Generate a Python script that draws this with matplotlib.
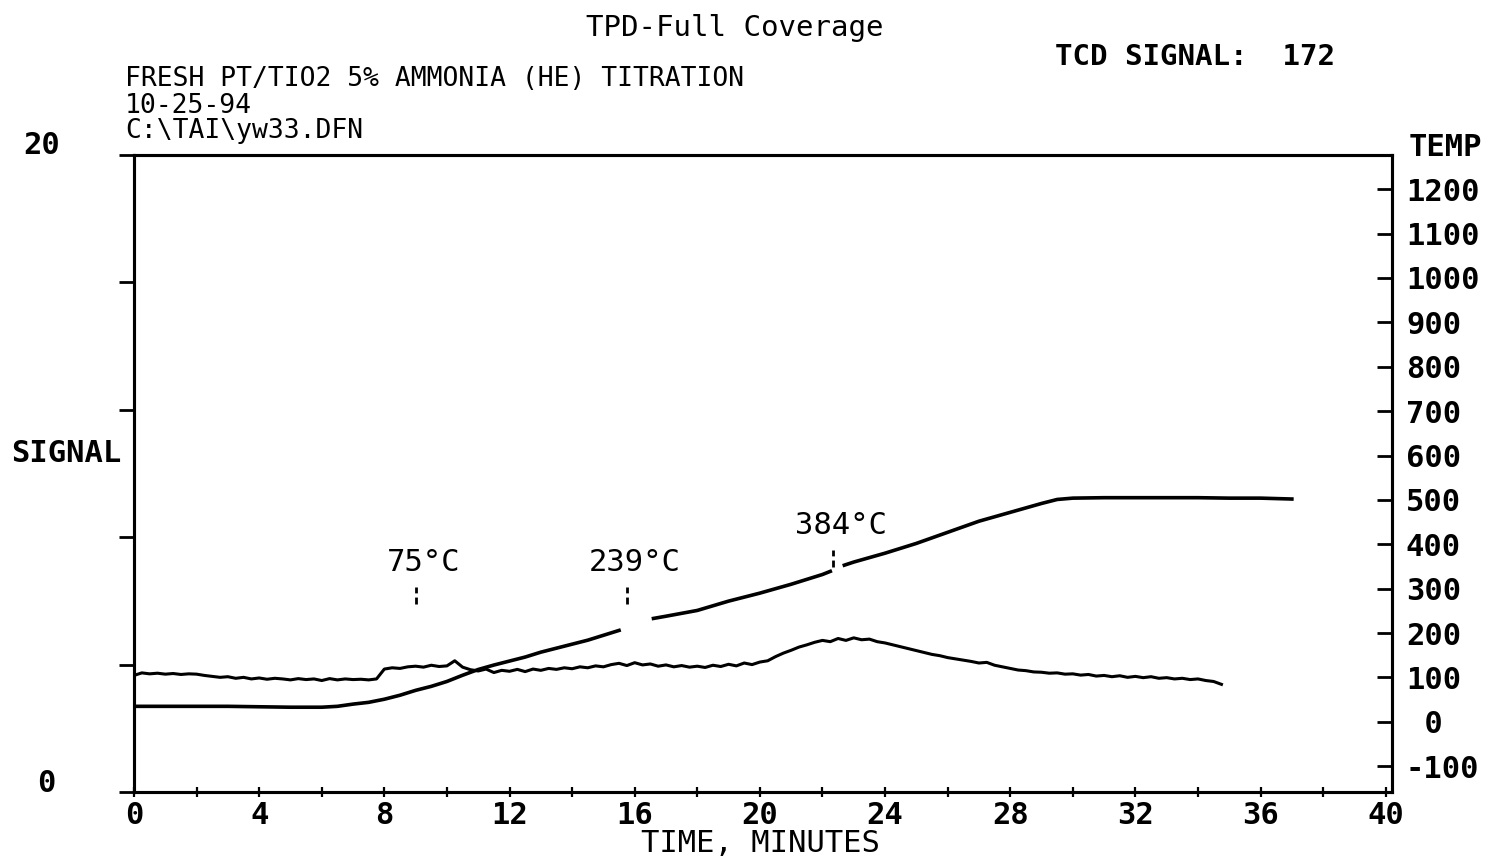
import numpy as np
import matplotlib
matplotlib.use('agg')
import matplotlib.pyplot as plt

plt.rcParams['font.family'] = ['DejaVu Sans Mono', 'DejaVu Sans']

# TCD signal trace, every 0.25 min
sig_time = np.arange(0, 35, 0.25)
sig_vals = [
    3.66, 3.74, 3.71, 3.73, 3.70, 3.72, 3.69, 3.71, 3.70, 3.66,
    3.63, 3.60, 3.62, 3.57, 3.60, 3.55, 3.58, 3.54, 3.57, 3.55,
    3.52, 3.56, 3.53, 3.55, 3.50, 3.56, 3.52, 3.55, 3.53, 3.54,
    3.52, 3.55, 3.86, 3.90, 3.88, 3.93, 3.95, 3.92, 3.98, 3.94,
    3.96, 4.12, 3.92, 3.84, 3.80, 3.86, 3.75, 3.82, 3.79, 3.85,
    3.78, 3.86, 3.82, 3.88, 3.85, 3.90, 3.87, 3.93, 3.90, 3.96,
    3.93, 4.00, 4.04, 3.97, 4.06, 3.99, 4.02, 3.95, 3.99, 3.93,
    3.97, 3.92, 3.95, 3.91, 3.98, 3.94, 4.01, 3.96, 4.05, 4.00,
    4.08, 4.12, 4.25, 4.36, 4.45, 4.55, 4.62, 4.70, 4.76, 4.72,
    4.82, 4.76, 4.84, 4.78, 4.80, 4.72, 4.68, 4.62, 4.56, 4.50,
    4.44, 4.38, 4.32, 4.28, 4.22, 4.18, 4.14, 4.10, 4.05, 4.07,
    3.98, 3.93, 3.88, 3.83, 3.81, 3.77, 3.76, 3.73, 3.74, 3.70,
    3.71, 3.67, 3.69, 3.64, 3.66, 3.62, 3.65, 3.60, 3.63, 3.59,
    3.62, 3.57, 3.59, 3.55, 3.57, 3.53, 3.55, 3.50, 3.47, 3.38,
]

# temperature trace (deg C), gaps in the printout kept as nan
temp_time = [0, 1, 2, 3, 4, 5, 6, 6.5, 7, 7.5, 8, 8.5, 9, 9.5, 10, 10.5,
             11, 11.5, 12, 12.5, 13, 13.5, 14, 14.5, 15, 15.5, 15.9, 16.6,
             17, 18, 19, 20, 21, 22, 22.25, 22.45, 22.7, 23, 24, 25, 26,
             27, 28, 29, 29.5, 30, 31, 32, 33, 34, 35, 36, 37]
temp_vals = [35, 35, 35, 35, 34, 33, 33, 35, 40, 44, 51, 60, 71, 80, 91, 105,
             118, 128, 137, 146, 157, 166, 175, 184, 195, 206, np.nan, 233,
             238, 251, 272, 290, 310, 332, 339, np.nan, 353, 360, 380, 402, 427,
             452, 472, 492, 501, 504, 505, 505, 505, 505, 504, 504, 502]

peak_labels = ['75°C', '239°C', '384°C']
peak_times = [9.0, 15.75, 22.33]
peak_sig = [5.9, 5.9, 7.05]

x_ticks = [0, 4, 8, 12, 16, 20, 24, 28, 32, 36, 40]
temp_ticks = [-100, 0, 100, 200, 300, 400, 500, 600, 700, 800, 900, 1000, 1100, 1200]

W, H = 1488, 866
fig = plt.figure(figsize=(W / 100, H / 100), dpi=100)
ax = fig.add_axes([134 / W, 1 - 792 / H, (1392 - 134) / W, (792 - 155) / H])
ax2 = ax.twinx()

ax.plot(sig_time, sig_vals, color='black', lw=2.2)
ax2.plot(temp_time, temp_vals, color='black', lw=2.6)

ax.set_xlim(0, 40.2)
ax.set_ylim(0, 20)
ax2.set_ylim(-158, 1277)

for a in (ax, ax2):
    for s in a.spines.values():
        s.set_linewidth(2.2)

# x axis
ax.set_xticks(x_ticks)
ax.set_xticklabels([str(t) for t in x_ticks], fontsize=22, fontweight='bold')
ax.set_xticks([t + 2 for t in x_ticks[:-1]], minor=True)
ax.tick_params(axis='x', which='both', direction='inout', length=7, width=1.6, pad=3)

# left axis: ticks only, labels placed by hand further left
ax.set_yticks([0, 4, 8, 12, 16, 20])
ax.tick_params(axis='y', direction='out', length=11, width=2, labelleft=False)

# right axis
ax2.set_yticks(temp_ticks)
ax2.set_yticklabels([str(t) if t != 0 else ' 0' for t in temp_ticks],
                    fontsize=22, fontweight='bold')
ax2.tick_params(axis='y', direction='in', length=11, width=2, pad=10)

# peak annotations
for lab, t, s in zip(peak_labels, peak_times, peak_sig):
    ax.plot([t, t], [s, s + 0.55], color='black', lw=2, ls=(0, (2.5, 1.5)))
    ax.text(t + 0.25, s + 0.85, lab, fontsize=22, ha='center', va='bottom')

def ftext(x, y, s, **kw):
    fig.text(x / W, 1 - y / H, s, **kw)

ftext(735, 28, 'TPD-Full Coverage', fontsize=21, ha='center', va='center')
ftext(1055, 57, 'TCD SIGNAL:  172', fontsize=21, fontweight='bold', ha='left', va='center')
ftext(125, 79, 'FRESH PT/TIO2 5% AMMONIA (HE) TITRATION', fontsize=19, ha='left', va='center')
ftext(125, 106, '10-25-94', fontsize=19, ha='left', va='center')
ftext(125, 131, 'C:\\TAI\\yw33.DFN', fontsize=19, ha='left', va='center')
ftext(42, 145, '20', fontsize=22, fontweight='bold', ha='center', va='center')
ftext(46, 783, '0', fontsize=22, fontweight='bold', ha='center', va='center')
ftext(66, 453, 'SIGNAL', fontsize=22, fontweight='bold', ha='center', va='center')
ftext(1445, 147, 'TEMP', fontsize=22, fontweight='bold', ha='center', va='center')
ftext(760, 843, 'TIME, MINUTES', fontsize=22, ha='center', va='center')

fig.savefig('out.png', dpi=100)
